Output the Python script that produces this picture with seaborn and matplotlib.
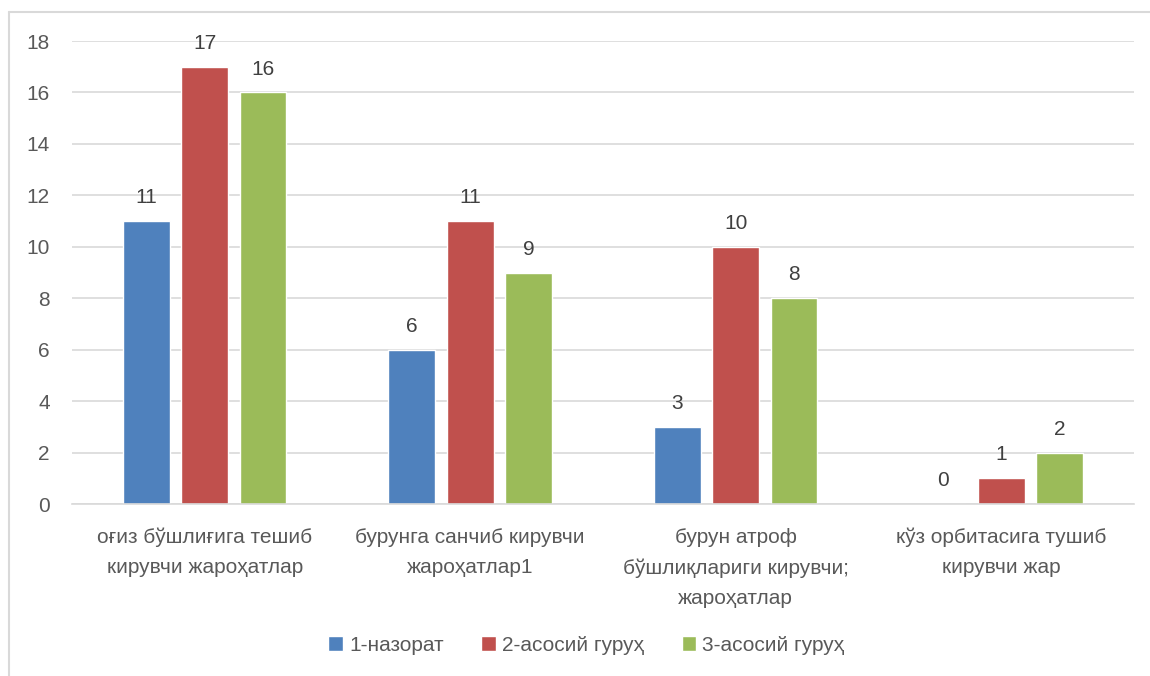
import pandas as pd
import seaborn as sns
import matplotlib.pyplot as plt
from matplotlib.lines import Line2D

# -------- data --------
categories = [
    "оғиз бўшлиғига тешиб\nкирувчи жароҳатлар",
    "бурунга санчиб кирувчи\nжароҳатлар1",
    "бурун атроф\nбўшлиқлариги кирувчи;\nжароҳатлар",
    "кўз орбитасига тушиб\nкирувчи жар",
]
groups = ["1-назорат", "2-асосий гуруҳ", "3-асосий гуруҳ"]
control = [11, 6, 3, 0]
main2 = [17, 11, 10, 1]
main3 = [16, 9, 8, 2]
colors = ["#4F81BD", "#C0504D", "#9BBB59"]

rows = []
for name, vals in zip(groups, [control, main2, main3]):
    for cat, v in zip(categories, vals):
        rows.append({"category": cat, "group": name, "value": v})
df = pd.DataFrame(rows)

sns.set_style("white")
plt.rcParams["font.family"] = ["Liberation Sans", "DejaVu Sans"]
text_color = "#595959"

fig = plt.figure(figsize=(11.5, 6.76), dpi=100)
ax = fig.add_axes([0.0626, 0.2544, 0.9234, 0.6849])

sns.barplot(data=df, x="category", y="value", hue="group", order=categories,
            hue_order=groups, palette=colors, width=0.66, gap=0.2,
            saturation=1, ax=ax, legend=True)

for cont in ax.containers:
    ax.bar_label(cont, labels=[f"{int(v)}" for v in cont.datavalues],
                 padding=10, fontsize=15, color="#404040")

ax.set_ylim(0, 18)
ax.set_yticks(range(0, 19, 2))
ax.set_xlim(-0.5, len(categories) - 0.5)
ax.yaxis.grid(True, color="#d9d9d9", linewidth=1.2)
ax.set_axisbelow(True)
for s in ["top", "right", "left"]:
    ax.spines[s].set_visible(False)
ax.spines["bottom"].set_color("#d9d9d9")
ax.spines["bottom"].set_linewidth(1.2)
ax.set_xlabel("")
ax.set_ylabel("")
ax.tick_params(axis="both", length=0, colors=text_color, labelsize=15)
ax.tick_params(axis="x", pad=17)
ax.tick_params(axis="y", pad=16)
for lbl in ax.get_xticklabels():
    lbl.set_linespacing(1.75)

handles, labels = ax.get_legend_handles_labels()
ax.legend(handles, labels, loc="center", ncol=3, frameon=False, fontsize=15,
          labelcolor=text_color, handlelength=0.7, handleheight=0.7,
          handletextpad=0.3, columnspacing=1.8)
ax.get_legend().set_bbox_to_anchor((0.51, 0.045), transform=fig.transFigure)

# outer chart frame (left and top edges visible)
fig.add_artist(Line2D([9 / 1150, 9 / 1150], [0, 1 - 12 / 676],
                      transform=fig.transFigure, color="#d9d9d9", linewidth=1.5))
fig.add_artist(Line2D([9 / 1150, 1], [1 - 12 / 676, 1 - 12 / 676],
                      transform=fig.transFigure, color="#d9d9d9", linewidth=1.5))

fig.savefig("out.png", dpi=100)
